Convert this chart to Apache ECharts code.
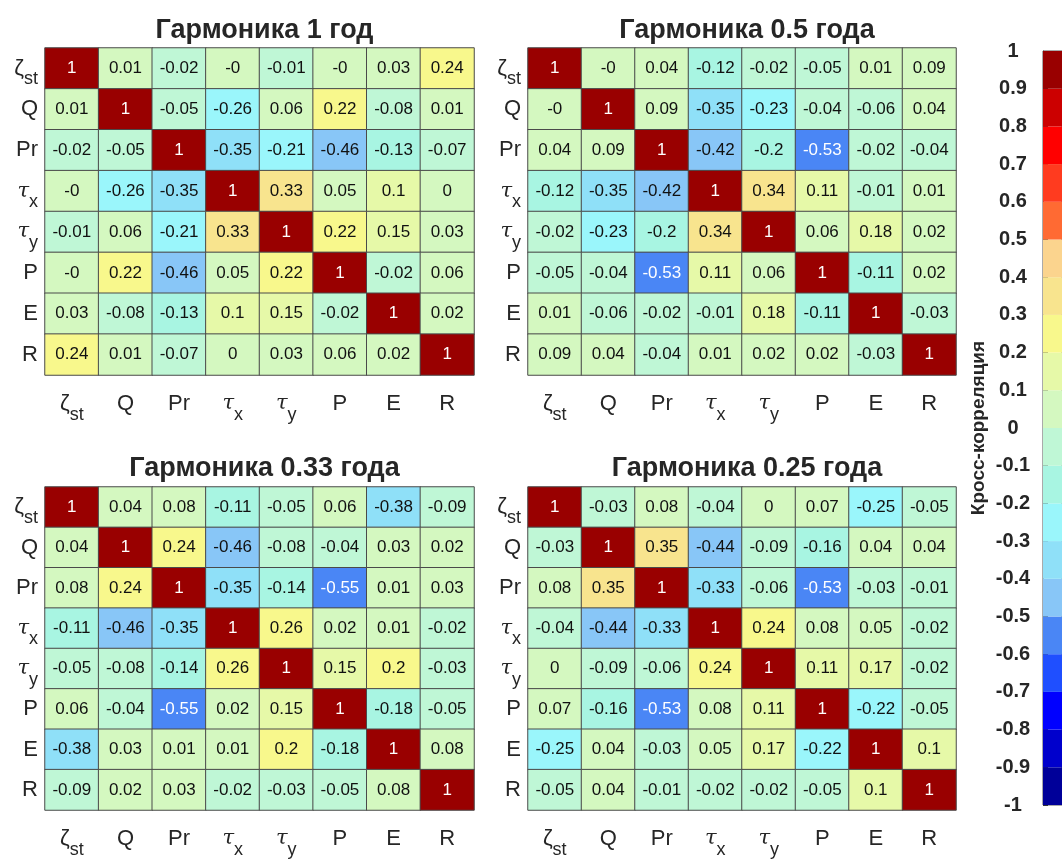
<!DOCTYPE html>
<html>
<head>
<meta charset="utf-8">
<script src="https://cdn.jsdelivr.net/npm/echarts@6/dist/echarts.min.js"></script>
<style>
  html, body { margin: 0; padding: 0; background: #ffffff; }
  #chart { width: 1062px; height: 859px; }
</style>
</head>
<body>
<div id="chart"></div>
<script>
// Variable names; the part after "_" is drawn as a subscript
const varNames = ['ζ_st', 'Q', 'Pr', 'τ_x', 'τ_y', 'P', 'E', 'R'];

const panelTitles = ['Гармоника 1 год', 'Гармоника 0.5 года', 'Гармоника 0.33 года', 'Гармоника 0.25 года'];

// Cross-correlation matrices (rows/columns follow varNames)
const harm1 = [
  [1, 0.01, -0.02, -0, -0.01, -0, 0.03, 0.24],
  [0.01, 1, -0.05, -0.26, 0.06, 0.22, -0.08, 0.01],
  [-0.02, -0.05, 1, -0.35, -0.21, -0.46, -0.13, -0.07],
  [-0, -0.26, -0.35, 1, 0.33, 0.05, 0.1, 0],
  [-0.01, 0.06, -0.21, 0.33, 1, 0.22, 0.15, 0.03],
  [-0, 0.22, -0.46, 0.05, 0.22, 1, -0.02, 0.06],
  [0.03, -0.08, -0.13, 0.1, 0.15, -0.02, 1, 0.02],
  [0.24, 0.01, -0.07, 0, 0.03, 0.06, 0.02, 1]
];
const harm05 = [
  [1, -0, 0.04, -0.12, -0.02, -0.05, 0.01, 0.09],
  [-0, 1, 0.09, -0.35, -0.23, -0.04, -0.06, 0.04],
  [0.04, 0.09, 1, -0.42, -0.2, -0.53, -0.02, -0.04],
  [-0.12, -0.35, -0.42, 1, 0.34, 0.11, -0.01, 0.01],
  [-0.02, -0.23, -0.2, 0.34, 1, 0.06, 0.18, 0.02],
  [-0.05, -0.04, -0.53, 0.11, 0.06, 1, -0.11, 0.02],
  [0.01, -0.06, -0.02, -0.01, 0.18, -0.11, 1, -0.03],
  [0.09, 0.04, -0.04, 0.01, 0.02, 0.02, -0.03, 1]
];
const harm033 = [
  [1, 0.04, 0.08, -0.11, -0.05, 0.06, -0.38, -0.09],
  [0.04, 1, 0.24, -0.46, -0.08, -0.04, 0.03, 0.02],
  [0.08, 0.24, 1, -0.35, -0.14, -0.55, 0.01, 0.03],
  [-0.11, -0.46, -0.35, 1, 0.26, 0.02, 0.01, -0.02],
  [-0.05, -0.08, -0.14, 0.26, 1, 0.15, 0.2, -0.03],
  [0.06, -0.04, -0.55, 0.02, 0.15, 1, -0.18, -0.05],
  [-0.38, 0.03, 0.01, 0.01, 0.2, -0.18, 1, 0.08],
  [-0.09, 0.02, 0.03, -0.02, -0.03, -0.05, 0.08, 1]
];
const harm025 = [
  [1, -0.03, 0.08, -0.04, 0, 0.07, -0.25, -0.05],
  [-0.03, 1, 0.35, -0.44, -0.09, -0.16, 0.04, 0.04],
  [0.08, 0.35, 1, -0.33, -0.06, -0.53, -0.03, -0.01],
  [-0.04, -0.44, -0.33, 1, 0.24, 0.08, 0.05, -0.02],
  [0, -0.09, -0.06, 0.24, 1, 0.11, 0.17, -0.02],
  [0.07, -0.16, -0.53, 0.08, 0.11, 1, -0.22, -0.05],
  [-0.25, 0.04, -0.03, 0.05, 0.17, -0.22, 1, 0.1],
  [-0.05, 0.04, -0.01, -0.02, -0.02, -0.05, 0.1, 1]
];

const colorbarTitle = 'Кросс-корреляция';

// 20-step colormap, from the [-1,-0.9) bin up to [0.9,1]
const binColors = [
  '#000099', '#0000cc', '#0000ff', '#1f4fff', '#4a86f5',
  '#88c6f7', '#8fe0f8', '#9af6fb', '#a8f5e2', '#bff7d6',
  '#d4f8c0', '#e6f9a8', '#f8f88c', '#f8e48e', '#fbd48e',
  '#ff6a33', '#ff3b1f', '#ff0000', '#cc0000', '#990000'
];

const matrices = [harm1, harm05, harm033, harm025];
const FONT = '"Liberation Sans", Arial, Helvetica, sans-serif';
const TEXT = '#262626';

const gridBoxes = [
  { left: 45, top: 48, width: 429, height: 327 },
  { left: 528, top: 48, width: 428, height: 327 },
  { left: 45, top: 487, width: 429, height: 326 },
  { left: 528, top: 487, width: 428, height: 326 }
];
const titleTops = [11, 11, 449, 449];

function fmt(v) {
  return Object.is(v, -0) ? '-0' : String(v);
}

// Rich-text label: base glyph on a 40px line, optional subscript pinned to the line bottom
function labelText(name) {
  const parts = name.split('_');
  const base = parts[0];
  const baseStyle = base === 'τ' ? 't' : 'm';
  if (parts.length === 1) return '{m|' + base + '}';
  return '{' + baseStyle + '|' + base + '}{s|' + parts[1] + '}';
}

const richStyles = {
  m: { fontFamily: FONT, fontSize: 22, lineHeight: 40, verticalAlign: 'middle', color: TEXT },
  t: { fontFamily: '"DejaVu Serif", serif', fontStyle: 'italic', fontSize: 21, lineHeight: 40, verticalAlign: 'middle', color: TEXT },
  s: { fontFamily: FONT, fontSize: 18, height: 18, lineHeight: 18, verticalAlign: 'bottom', color: TEXT }
};

const grid = [], xAxis = [], yAxis = [], series = [], title = [];

matrices.forEach((mat, k) => {
  grid.push(Object.assign({ containLabel: false }, gridBoxes[k]));
  xAxis.push({
    type: 'category', gridIndex: k, data: varNames, position: 'bottom',
    axisLine: { show: false }, axisTick: { show: false }, splitLine: { show: false },
    axisLabel: { interval: 0, margin: 9, formatter: labelText, rich: richStyles }
  });
  yAxis.push({
    type: 'category', gridIndex: k, data: varNames, inverse: true,
    axisLine: { show: false }, axisTick: { show: false }, splitLine: { show: false },
    axisLabel: { interval: 0, margin: 7, formatter: labelText, rich: richStyles }
  });
  const data = [];
  mat.forEach((row, i) => {
    row.forEach((v, j) => {
      data.push({
        value: [j, i, v],
        label: { color: Math.abs(v) >= 0.5 ? '#ffffff' : '#111111' }
      });
    });
  });
  series.push({
    type: 'heatmap', xAxisIndex: k, yAxisIndex: k, data: data,
    itemStyle: { borderColor: '#4a4a4a', borderWidth: 1 },
    label: {
      show: true, fontFamily: FONT, fontSize: 17,
      formatter: (p) => fmt(p.data.value[2])
    },
    emphasis: { disabled: true }
  });
  title.push({
    text: panelTitles[k],
    left: gridBoxes[k].left + gridBoxes[k].width / 2,
    top: titleTops[k],
    textAlign: 'center',
    textStyle: { fontFamily: FONT, fontSize: 27, fontWeight: 'bold', color: TEXT, lineHeight: 30 }
  });
});

// Colorbar: one rectangle per colormap bin on a value axis from -1 to 1
grid.push({ left: 1043, top: 51, width: 40, height: 754, show: true, borderColor: '#555555', borderWidth: 1 });
xAxis.push({ type: 'value', gridIndex: 4, min: 0, max: 1, show: false });
yAxis.push({
  type: 'value', gridIndex: 4, min: -1, max: 1, interval: 0.1, position: 'left',
  axisLine: { show: true, lineStyle: { color: '#555555' } },
  axisTick: { show: true, inside: true, length: 5, lineStyle: { color: '#333333' } },
  splitLine: { show: false },
  axisLabel: { align: 'center', margin: 30, fontFamily: FONT, fontSize: 20, fontWeight: 'bold', color: TEXT },
  name: colorbarTitle, nameLocation: 'middle', nameGap: 55, nameRotate: 90,
  nameTextStyle: { fontFamily: FONT, fontSize: 19, fontWeight: 'bold', color: TEXT }
});
series.push({
  type: 'custom', xAxisIndex: 4, yAxisIndex: 4, silent: true,
  data: binColors.map((c, i) => [0, (i - 10) / 10, (i - 9) / 10, i]),
  encode: { x: 0, y: [1, 2] },
  renderItem: (params, api) => {
    const p0 = api.coord([0, api.value(2)]);
    const p1 = api.coord([1, api.value(1)]);
    return {
      type: 'rect',
      shape: { x: p0[0], y: p0[1], width: p1[0] - p0[0], height: p1[1] - p0[1] },
      style: { fill: binColors[api.value(3)] }
    };
  },
  z: 1
});

const pieces = binColors.map((c, i) => {
  const p = { gte: (i - 10) / 10, color: c };
  if (i === binColors.length - 1) p.lte = 1; else p.lt = (i - 9) / 10;
  return p;
});

const chart = echarts.init(document.getElementById('chart'), null, { renderer: 'canvas' });
chart.setOption({
  animation: false,
  backgroundColor: '#ffffff',
  title: title,
  grid: grid,
  xAxis: xAxis,
  yAxis: yAxis,
  visualMap: { type: 'piecewise', show: false, dimension: 2, seriesIndex: [0, 1, 2, 3], pieces: pieces },
  series: series
});
</script>
</body>
</html>
